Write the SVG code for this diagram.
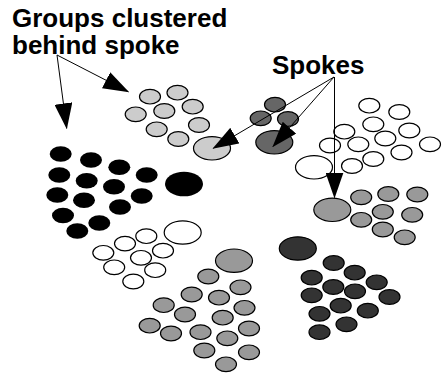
<svg xmlns="http://www.w3.org/2000/svg" width="448" height="376" viewBox="0 0 448 376">
<style>
.lbl{font-family:"Liberation Sans",Arial,sans-serif;font-weight:bold;font-size:26px;fill:#000}
ellipse{stroke:#000;stroke-width:1.2}
.lg ellipse{fill:#cccccc}
.dg ellipse{fill:#666666}
.wh ellipse{fill:#ffffff}
.bk ellipse{fill:#000000;stroke:none}
.gr ellipse{fill:#999999}
.dk ellipse{fill:#333333}
.conn line{stroke:#000;stroke-width:1;fill:none;marker-end:url(#ah)}
</style>
<defs>
<marker id="ah" markerUnits="userSpaceOnUse" viewBox="0 0 26 18" markerWidth="26" markerHeight="18" refX="25" refY="9" orient="auto">
<path d="M0,0 L26,9 L0,18 z" fill="#000"/>
</marker>
</defs>
<rect width="448" height="376" fill="#fff"/>

<g id="label-groups"><text class="lbl" x="12" y="27">Groups clustered</text><text class="lbl" x="12" y="54">behind spoke</text></g>
<g id="label-spokes"><text class="lbl" x="272" y="73.5">Spokes</text></g>

<g id="cluster-lightgray" class="lg">
<ellipse rx="10.5" ry="7.3" cx="150" cy="96.7"/>
<ellipse rx="10.5" ry="7.3" cx="177.5" cy="92.7"/>
<ellipse rx="10.5" ry="7.3" cx="135.7" cy="114.3"/>
<ellipse rx="10.5" ry="7.3" cx="164.3" cy="111"/>
<ellipse rx="10.5" ry="7.3" cx="192.7" cy="106.7"/>
<ellipse rx="10.5" ry="7.3" cx="156.7" cy="129.3"/>
<ellipse rx="10.5" ry="7.3" cx="199" cy="125"/>
<ellipse rx="10.5" ry="7.3" cx="178.3" cy="139"/>
<ellipse rx="18.5" ry="11.7" cx="212" cy="148.3"/>
</g>

<g id="cluster-darkgray" class="dg">
<ellipse rx="10.5" ry="7.3" cx="275" cy="104.7"/>
<ellipse rx="10.5" ry="7.3" cx="260.7" cy="118.3"/>
<ellipse rx="10.5" ry="7.3" cx="288" cy="119"/>
<ellipse rx="18.5" ry="11.7" cx="274.3" cy="142.3"/>
</g>

<g id="cluster-white-right" class="wh">
<ellipse rx="10.5" ry="7.3" cx="369.3" cy="105.7"/>
<ellipse rx="10.5" ry="7.3" cx="399.3" cy="112"/>
<ellipse rx="10.5" ry="7.3" cx="373.3" cy="124.3"/>
<ellipse rx="10.5" ry="7.3" cx="409.3" cy="130.5"/>
<ellipse rx="10.5" ry="7.3" cx="344.3" cy="131.7"/>
<ellipse rx="10.5" ry="7.3" cx="385.3" cy="138.5"/>
<ellipse rx="10.5" ry="7.3" cx="330" cy="145.5"/>
<ellipse rx="10.5" ry="7.3" cx="358.3" cy="144.3"/>
<ellipse rx="10.5" ry="7.3" cx="430" cy="144.3"/>
<ellipse rx="10.5" ry="7.3" cx="401.5" cy="152.5"/>
<ellipse rx="10.5" ry="7.3" cx="373.3" cy="159"/>
<ellipse rx="10.5" ry="7.3" cx="352" cy="166"/>
<ellipse rx="18.5" ry="11.7" cx="314" cy="167.3"/>
</g>

<g id="cluster-black" class="bk">
<ellipse rx="11" ry="7.8" cx="60.7" cy="154"/>
<ellipse rx="11" ry="7.8" cx="91" cy="160"/>
<ellipse rx="11" ry="7.8" cx="119.3" cy="167.3"/>
<ellipse rx="11" ry="7.8" cx="59.3" cy="175"/>
<ellipse rx="11" ry="7.8" cx="86.7" cy="180.7"/>
<ellipse rx="11" ry="7.8" cx="146.7" cy="175"/>
<ellipse rx="11" ry="7.8" cx="114" cy="186.7"/>
<ellipse rx="11" ry="7.8" cx="57.3" cy="195"/>
<ellipse rx="11" ry="7.8" cx="84" cy="200.3"/>
<ellipse rx="11" ry="7.8" cx="141.7" cy="196"/>
<ellipse rx="11" ry="7.8" cx="120" cy="207"/>
<ellipse rx="11" ry="7.8" cx="63" cy="215.5"/>
<ellipse rx="11" ry="7.8" cx="99.3" cy="223"/>
<ellipse rx="11" ry="7.8" cx="77.3" cy="231"/>
<ellipse rx="19" ry="12.3" cx="184" cy="184"/>
</g>

<g id="cluster-gray-right" class="gr">
<ellipse rx="10.5" ry="7.3" cx="361.2" cy="197.3"/>
<ellipse rx="10.5" ry="7.3" cx="388.3" cy="194"/>
<ellipse rx="10.5" ry="7.3" cx="417.3" cy="194.5"/>
<ellipse rx="10.5" ry="7.3" cx="382.8" cy="211.8"/>
<ellipse rx="10.5" ry="7.3" cx="412.2" cy="214.8"/>
<ellipse rx="10.5" ry="7.3" cx="361.2" cy="219.8"/>
<ellipse rx="10.5" ry="7.3" cx="382.8" cy="229.5"/>
<ellipse rx="10.5" ry="7.3" cx="404.7" cy="237.3"/>
<ellipse rx="18.5" ry="11.7" cx="332.3" cy="209.8"/>
</g>

<g id="cluster-white-lower" class="wh">
<ellipse rx="10.5" ry="7.3" cx="146.3" cy="236.2"/>
<ellipse rx="10.5" ry="7.3" cx="125" cy="243.6"/>
<ellipse rx="10.5" ry="7.3" cx="103.3" cy="252.8"/>
<ellipse rx="10.5" ry="7.3" cx="141" cy="257.8"/>
<ellipse rx="10.5" ry="7.3" cx="163" cy="250.7"/>
<ellipse rx="10.5" ry="7.3" cx="114.2" cy="267.3"/>
<ellipse rx="10.5" ry="7.3" cx="155.2" cy="270.2"/>
<ellipse rx="10.5" ry="7.3" cx="133.3" cy="281.5"/>
<ellipse rx="18.5" ry="11.7" cx="182.7" cy="232.5"/>
</g>

<g id="cluster-gray-lower" class="gr">
<ellipse rx="10.5" ry="7.3" cx="208.3" cy="276.5"/>
<ellipse rx="10.5" ry="7.3" cx="191.7" cy="294.5"/>
<ellipse rx="10.5" ry="7.3" cx="240.5" cy="287.3"/>
<ellipse rx="10.5" ry="7.3" cx="219" cy="297.7"/>
<ellipse rx="10.5" ry="7.3" cx="163.7" cy="305.2"/>
<ellipse rx="10.5" ry="7.3" cx="244.5" cy="307.8"/>
<ellipse rx="10.5" ry="7.3" cx="185" cy="314.5"/>
<ellipse rx="10.5" ry="7.3" cx="222.7" cy="317.7"/>
<ellipse rx="10.5" ry="7.3" cx="149.7" cy="325.7"/>
<ellipse rx="10.5" ry="7.3" cx="171" cy="333.5"/>
<ellipse rx="10.5" ry="7.3" cx="200.5" cy="332.2"/>
<ellipse rx="10.5" ry="7.3" cx="249" cy="328.5"/>
<ellipse rx="10.5" ry="7.3" cx="227.3" cy="338.3"/>
<ellipse rx="10.5" ry="7.3" cx="204.3" cy="350.5"/>
<ellipse rx="10.5" ry="7.3" cx="249" cy="352.3"/>
<ellipse rx="10.5" ry="7.3" cx="226" cy="364.3"/>
<ellipse rx="18.5" ry="11.7" cx="234" cy="260.7"/>
</g>

<g id="cluster-dark-lower" class="dk">
<ellipse rx="18.5" ry="11.7" cx="297.8" cy="248.5"/>
<ellipse rx="10.5" ry="7.3" cx="333.7" cy="263"/>
<ellipse rx="10.5" ry="7.3" cx="311.7" cy="277.7"/>
<ellipse rx="10.5" ry="7.3" cx="354.7" cy="272.7"/>
<ellipse rx="10.5" ry="7.3" cx="333.3" cy="287"/>
<ellipse rx="10.5" ry="7.3" cx="355" cy="291.3"/>
<ellipse rx="10.5" ry="7.3" cx="376.7" cy="282.3"/>
<ellipse rx="10.5" ry="7.3" cx="311.7" cy="295.3"/>
<ellipse rx="10.5" ry="7.3" cx="389.5" cy="297"/>
<ellipse rx="10.5" ry="7.3" cx="340.7" cy="305.7"/>
<ellipse rx="10.5" ry="7.3" cx="367.8" cy="310.7"/>
<ellipse rx="10.5" ry="7.3" cx="319.5" cy="313.8"/>
<ellipse rx="10.5" ry="7.3" cx="346.5" cy="324.3"/>
<ellipse rx="10.5" ry="7.3" cx="319.5" cy="332.2"/>
</g>

<g id="connectors" class="conn">
<line x1="57" y1="55" x2="66.7" y2="128.3"/>
<line x1="57" y1="55" x2="128.3" y2="91.7"/>
<line x1="334" y1="77" x2="213.3" y2="148.3"/>
<line x1="334" y1="77" x2="273" y2="146.5"/>
<line x1="334.5" y1="77" x2="334.5" y2="197.5"/>
</g>
</svg>
